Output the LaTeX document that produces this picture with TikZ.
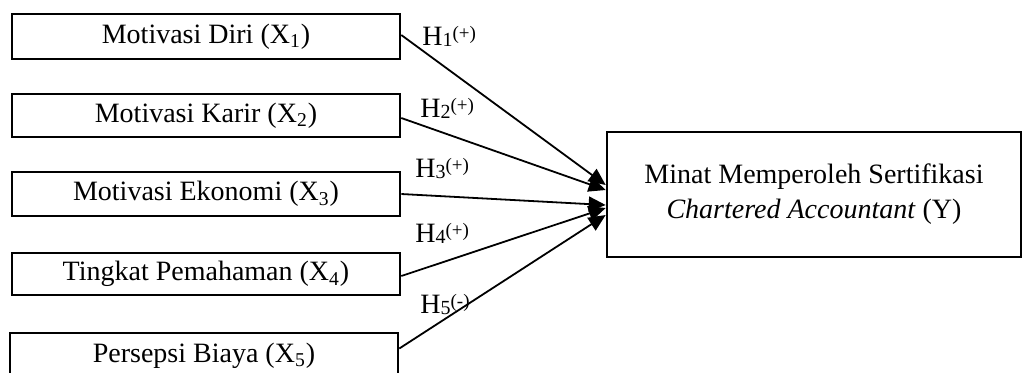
\documentclass[tikz,border=0pt]{standalone}
\usepackage{fontspec}
\setmainfont{Liberation Serif}
\usetikzlibrary{arrows.meta}
\newcommand{\hyp}[2]{H\raisebox{-0.9pt}{\fontsize{10}{10}\selectfont #1}\raisebox{2.6pt}{\fontsize{9.5}{10}\selectfont(#2)}}
\begin{document}
\begin{tikzpicture}[x=0.5pt,y=-0.5pt,
  varbox/.style={draw, line width=1.3pt, inner sep=0pt, font=\fontsize{14}{17.5}\selectfont},
  lbl/.style={anchor=base west, font=\fontsize{14}{15}\selectfont, inner sep=0pt},
  link/.style={line width=0.9pt, -{Triangle[length=8.5pt,width=7.5pt]}}]
\useasboundingbox (0,0) rectangle (1023,372);
\clip (0,0) rectangle (1023,372);
\node[varbox, minimum width=194pt, minimum height=22.5pt] (x1) at (206,36.5) {Motivasi Diri (X\textsubscript{1})};
\node[varbox, minimum width=194pt, minimum height=21.5pt] (x2) at (206,115.5) {Motivasi Karir (X\textsubscript{2})};
\node[varbox, minimum width=194pt, minimum height=22pt] (x3) at (206,194) {Motivasi Ekonomi (X\textsubscript{3})};
\node[varbox, minimum width=194pt, minimum height=21pt] (x4) at (206,274) {Tingkat Pemahaman (X\textsubscript{4})};
\node[varbox, minimum width=194pt, minimum height=22.5pt] (x5) at (204,355.5) {Persepsi Biaya (X\textsubscript{5})};
\node[varbox, minimum width=207pt, minimum height=62.5pt, align=center] (y) at (814,194.5)
  {Minat Memperoleh Sertifikasi\\\textit{Chartered Accountant} (Y)};
\draw[link] ([yshift=0.75pt]x1.east) -- ([yshift=4.75pt]y.west);
\draw[link] ([yshift=-1.25pt]x2.east) -- ([yshift=2.25pt]y.west);
\draw[link] (x3.east) -- ([yshift=-5.25pt]y.west);
\draw[link] ([yshift=-1pt]x4.east) -- ([yshift=-6.75pt]y.west);
\draw[link] ([yshift=3.5pt]x5.east) -- ([yshift=-10.25pt]y.west);
\node[lbl] (h1) at (422,45) {\hyp{1}{+}};
\node[lbl] (h2) at (420,117) {\hyp{2}{+}};
\node[lbl] (h3) at (415,177) {\hyp{3}{+}};
\node[lbl] (h4) at (415,242) {\hyp{4}{+}};
\node[lbl] (h5) at (420,313) {\hyp{5}{-}};
\end{tikzpicture}
\end{document}
